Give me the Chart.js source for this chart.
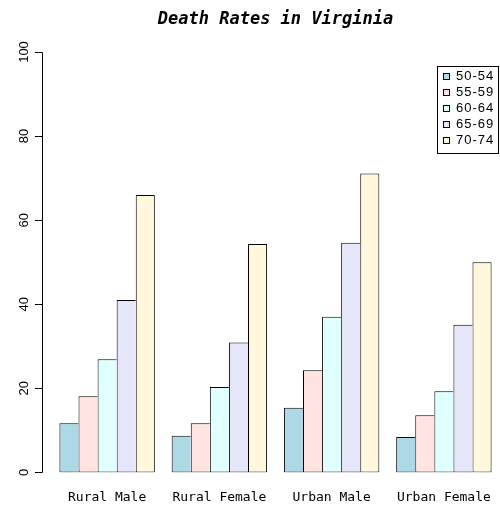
<!DOCTYPE html>
<html>
<head>
<meta charset="utf-8">
<script src="https://cdn.jsdelivr.net/npm/chart.js@4.4.0/dist/chart.umd.min.js"></script>
<style>
  html, body { margin: 0; padding: 0; background: #fff; }
  #wrap { width: 500px; height: 505px; }
</style>
</head>
<body>
<div id="wrap"><canvas id="c"></canvas></div>
<script>
// VADeaths, rates per 1000
const groups = ["Rural Male", "Rural Female", "Urban Male", "Urban Female"];
const ageBands = ["50-54", "55-59", "60-64", "65-69", "70-74"];
const age5054 = [11.7, 8.7, 15.4, 8.4];
const age5559 = [18.1, 11.7, 24.3, 13.6];
const age6064 = [26.9, 20.3, 37.0, 19.3];
const age6569 = [41.0, 30.9, 54.6, 35.1];
const age7074 = [66.0, 54.3, 71.1, 50.0];
const yTicks = [0, 20, 40, 60, 80, 100];

const fills = ["#ADD8E6", "#FFE4E1", "#E0FFFF", "#E6E6FA", "#FFF8DC"];
const series = [age5054, age5559, age6064, age6569, age7074];

// R-style left axis, drawn off the y scale
const rAxis = {
    id: "rAxis",
    afterDraw(chart) {
        const ctx = chart.ctx;
        const y = chart.scales.y;
        const x0 = chart.chartArea.left - 9;
        ctx.save();
        ctx.strokeStyle = "#000";
        ctx.lineWidth = 1;
        ctx.beginPath();
        ctx.moveTo(x0 + 0.5, Math.round(y.getPixelForValue(0)) + 0.5);
        ctx.lineTo(x0 + 0.5, Math.round(y.getPixelForValue(100)) + 0.5);
        yTicks.forEach(v => {
            const py = Math.round(y.getPixelForValue(v)) + 0.5;
            ctx.moveTo(x0 + 0.5, py);
            ctx.lineTo(x0 - 7, py);
        });
        ctx.stroke();
        ctx.fillStyle = "#000";
        ctx.font = "13px 'Liberation Sans', Arial, sans-serif";
        ctx.textAlign = "center";
        ctx.textBaseline = "middle";
        yTicks.forEach(v => {
            ctx.save();
            ctx.translate(x0 - 18, y.getPixelForValue(v));
            ctx.rotate(-Math.PI / 2);
            ctx.fillText(String(v), 0, 0);
            ctx.restore();
        });
        ctx.restore();
    }
};

// boxed legend in the top right corner
const boxLegend = {
    id: "boxLegend",
    afterDraw(chart) {
        const ctx = chart.ctx;
        const left = 437, top = 66, w = 61, lh = 16;
        const h = 87;
        ctx.save();
        ctx.fillStyle = "#fff";
        ctx.fillRect(left, top, w, h);
        ctx.strokeStyle = "#000";
        ctx.lineWidth = 1;
        ctx.strokeRect(left + 0.5, top + 0.5, w, h);
        ctx.font = "13px 'Liberation Sans', Arial, sans-serif";
        ctx.letterSpacing = "1px";
        ctx.textBaseline = "middle";
        ctx.textAlign = "left";
        ageBands.forEach((lab, i) => {
            const cy = Math.round(76 + lh * i);
            ctx.fillStyle = fills[i];
            ctx.fillRect(443, cy - 3, 7, 7);
            ctx.strokeRect(443.5, cy - 2.5, 6, 6);
            ctx.fillStyle = "#000";
            ctx.fillText(lab, 456, cy + 0.5);
        });
        ctx.restore();
    }
};

new Chart(document.getElementById("c"), {
    type: "bar",
    data: {
        labels: groups,
        datasets: series.map((vals, i) => ({
            label: ageBands[i],
            data: vals,
            backgroundColor: fills[i],
            borderColor: "#000",
            // single 1px dividers between touching bars
            borderWidth: { top: 1, bottom: 1, left: 1, right: i === series.length - 1 ? 1 : 0 },
            borderSkipped: false,
            barPercentage: 1,
            categoryPercentage: 0.85
        }))
    },
    options: {
        responsive: true,
        maintainAspectRatio: false,
        animation: false,
        layout: { padding: { left: 51, right: 0, top: 0, bottom: -2 } },
        scales: {
            x: {
                grid: { display: true, drawOnChartArea: false, drawTicks: true, tickLength: 15, color: "rgba(0,0,0,0)" },
                border: { display: false },
                ticks: {
                    padding: 2,
                    color: "#000",
                    maxRotation: 0,
                    font: { family: "'DejaVu Sans Mono', monospace", size: 13 }
                }
            },
            y: {
                display: false,
                min: 0,
                max: 100
            }
        },
        plugins: {
            legend: { display: false },
            tooltip: { enabled: false },
            title: {
                display: true,
                fullSize: false,
                text: "Death Rates in Virginia",
                color: "#000",
                padding: { top: 9, bottom: 22.6 },
                font: { family: "'DejaVu Sans Mono', monospace", size: 17, weight: "bold", style: "italic", lineHeight: 1.2 }
            }
        }
    },
    plugins: [rAxis, boxLegend]
});
</script>
</body>
</html>
